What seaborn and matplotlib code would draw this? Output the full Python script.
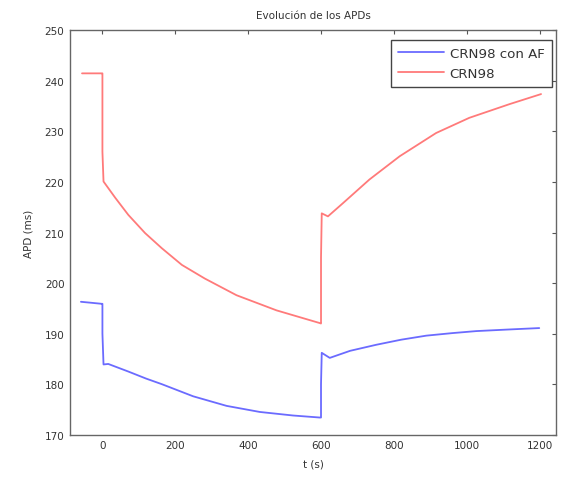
import matplotlib
matplotlib.use("Agg")
import matplotlib.pyplot as plt
import seaborn as sns
import pandas as pd

# Data
blue_t = [-59, -30, -2, 0, 0, 3, 16, 71, 120, 163, 249, 341, 432, 523, 596, 600, 600, 602, 624, 680, 752, 820, 889, 960, 1026, 1110, 1199]
blue_apd = [196.3, 196.1, 195.9, 195.9, 190.0, 183.9, 184.0, 182.5, 181.1, 180.0, 177.6, 175.7, 174.5, 173.8, 173.4, 173.4, 180.0, 186.2, 185.2, 186.6, 187.8, 188.8, 189.6, 190.1, 190.5, 190.8, 191.1]
red_t = [-56, -2, 0, 0, 3, 35, 71, 117, 163, 218, 281, 368, 478, 596, 600, 600, 602, 619, 660, 733, 816, 916, 1007, 1117, 1204]
red_apd = [241.5, 241.5, 241.5, 226.0, 220.1, 216.9, 213.5, 209.9, 206.9, 203.6, 200.9, 197.6, 194.6, 192.1, 192.0, 205.0, 213.8, 213.2, 215.8, 220.5, 225.1, 229.7, 232.7, 235.4, 237.4]
series_names = ["CRN98 con AF", "CRN98"]
x_ticks = [0, 200, 400, 600, 800, 1000, 1200]
y_ticks = [170, 180, 190, 200, 210, 220, 230, 240, 250]

df = pd.concat([
    pd.DataFrame({"t": blue_t, "apd": blue_apd, "serie": series_names[0]}),
    pd.DataFrame({"t": red_t, "apd": red_apd, "serie": series_names[1]}),
], ignore_index=True)

sns.set_style("white")
plt.rcParams["font.family"] = ["DejaVu Sans"]
plt.rcParams["font.size"] = 7.5

fig = plt.figure(figsize=(5.67, 4.81), dpi=100)
ax = fig.add_axes([70 / 567, 1 - 435.7 / 481, 486 / 567, 404.3 / 481])

sns.lineplot(data=df, x="t", y="apd", hue="serie", palette=["#6b6bff", "#ff7a7a"],
             estimator=None, sort=False, units="serie", linewidth=1.3, ax=ax, legend=True)

ax.set_xlim(-89, 1245)
ax.set_ylim(170, 250)
ax.set_xticks(x_ticks)
ax.set_yticks(y_ticks)
ax.tick_params(direction="in", length=3, width=0.8, colors="#555555", labelcolor="#333333",
               labelsize=7.5, top=True, right=True, pad=4)
for s in ax.spines.values():
    s.set_color("#666666")
    s.set_linewidth(1.0)

ax.set_title("Evolución de los APDs", fontsize=7.5, color="#333333", pad=9)
ax.set_xlabel("t (s)", fontsize=7.5, color="#333333", labelpad=6)
ax.set_ylabel("APD (ms)", fontsize=7.5, color="#333333", labelpad=8)

leg = ax.legend(loc="upper right", bbox_to_anchor=(0.9915, 0.977), borderaxespad=0,
                fancybox=False, framealpha=1, edgecolor="#444444", handlelength=3.4,
                handletextpad=0.45, fontsize=9.6, labelspacing=0.5, borderpad=0.55)
for t in leg.get_texts():
    t.set_color("#333333")
leg.get_frame().set_linewidth(1.0)

fig.savefig("out.png", dpi=100)
